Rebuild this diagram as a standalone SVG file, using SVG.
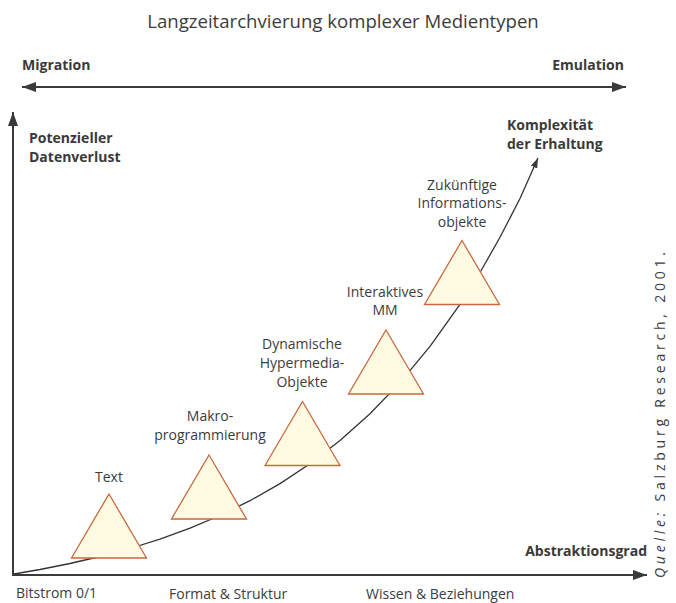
<svg xmlns="http://www.w3.org/2000/svg" width="676" height="603" viewBox="0 0 676 603">
<style>
.t{font-family:"Open Sans","Noto Sans",sans-serif;font-size:14px;fill:#3c3c3c;text-anchor:middle}
.b{font-family:"Open Sans","Noto Sans",sans-serif;font-size:14px;font-weight:bold;fill:#3a3a3a}
.tri{fill:#fffbe3;stroke:#c8683e;stroke-width:1.3;stroke-linejoin:miter}
.ax{stroke:#3a3a3a;stroke-width:2;fill:none}
</style>
<defs>
<marker id="ah" markerUnits="userSpaceOnUse" markerWidth="16" markerHeight="12" refX="14" refY="5" orient="auto">
<path d="M0,0 L14,5 L0,10 Z" fill="#3a3a3a"/>
</marker>
<marker id="ahs" markerUnits="userSpaceOnUse" markerWidth="16" markerHeight="12" refX="14" refY="5" orient="auto-start-reverse">
<path d="M0,0 L14,5 L0,10 Z" fill="#3a3a3a"/>
</marker>
<marker id="ahc" markerUnits="userSpaceOnUse" markerWidth="12" markerHeight="10" refX="10" refY="3.5" orient="auto">
<path d="M0,0 L10,3.5 L0,7 Z" fill="#3a3a3a"/>
</marker>
</defs>
<text x="343" y="28" style="font-family:'Open Sans','Noto Sans',sans-serif;font-size:18.6px;fill:#3c3c3c;text-anchor:middle">Langzeitarchvierung komplexer Medientypen</text>
<g id="topaxis">
<text class="b" x="22" y="70">Migration</text>
<text class="b" x="624" y="70" style="text-anchor:end">Emulation</text>
</g>
<g id="connectors">
<path class="ax" d="M22,87 L626,87" stroke-width="2.5" marker-start="url(#ahs)" marker-end="url(#ah)"/>
<path class="ax" d="M13,576 L13,112" marker-end="url(#ah)"/>
<path class="ax" d="M12,575 L647,575" marker-end="url(#ah)"/>
<path d="M14,574 L40,569.5 L70,563.5 L100,556.5 L130,548.5 L160,539.1 L190,528.2 L220,515.5 L250,500.7 L280,483.6 L310,463.7 L340,440.6 L370,413.8 L400,382.6 L430,346.4 L460,304.3 L480,272.5 L500,237.3 L520,198.5 L538,158" fill="none" stroke="#333" stroke-width="1.3" stroke-linejoin="round" marker-end="url(#ahc)"/>
</g>
<g id="axislabels">
<text class="b" x="29" y="143">Potenzieller</text>
<text class="b" x="29" y="162">Datenverlust</text>
<text class="b" x="507" y="130">Komplexität</text>
<text class="b" x="507" y="149">der Erhaltung</text>
<text class="b" x="647" y="556" style="text-anchor:end">Abstraktionsgrad</text>
<text class="t" x="16" y="598" style="text-anchor:start">Bitstrom 0/1</text>
<text class="t" x="169" y="598.5" style="text-anchor:start">Format &amp; Struktur</text>
<text class="t" x="366" y="598.5" style="text-anchor:start">Wissen &amp; Beziehungen</text>
</g>
<g id="n1">
<polygon class="tri" points="109,494 146.5,558 71.5,558"/>
<text class="t" x="109" y="482">Text</text>
</g>
<g id="n2">
<polygon class="tri" points="209,455 246.5,519 171.5,519"/>
<text class="t" x="210" y="421">Makro-</text>
<text class="t" x="210" y="440">programmierung</text>
</g>
<g id="n3">
<polygon class="tri" points="302.5,401.5 340,465.5 265,465.5"/>
<text class="t" x="302" y="349">Dynamische</text>
<text class="t" x="302" y="368">Hypermedia-</text>
<text class="t" x="302" y="387">Objekte</text>
</g>
<g id="n4">
<polygon class="tri" points="386,330 423.5,394 348.5,394"/>
<text class="t" x="385" y="297">Interaktives</text>
<text class="t" x="385" y="315">MM</text>
</g>
<g id="n5">
<polygon class="tri" points="462,240.5 499.5,304.5 424.5,304.5"/>
<text class="t" x="462" y="190">Zukünftige</text>
<text class="t" x="462" y="208">Informations-</text>
<text class="t" x="462" y="227">objekte</text>
</g>
<g id="source">
<text transform="translate(665,578) rotate(-90)" style="font-family:'Open Sans','Noto Sans',sans-serif;font-size:14px;fill:#3c3c3c" textLength="326" lengthAdjust="spacing"><tspan font-style="italic">Quelle:</tspan> Salzburg Research, 2001.</text>
</g>
</svg>
